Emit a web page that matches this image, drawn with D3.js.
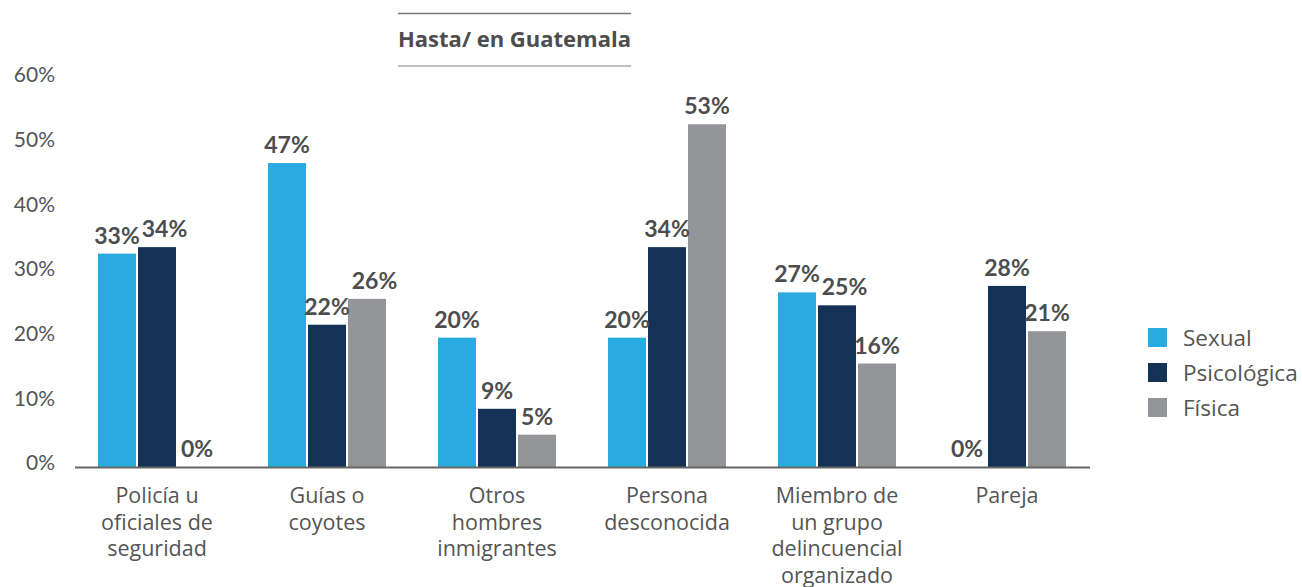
<!DOCTYPE html>
<html><head><meta charset="utf-8">
<script src="https://cdn.jsdelivr.net/npm/d3@7"></script>
<style>
html,body{margin:0;padding:0;background:#fff;}
svg{display:block;font-family:Lato, "Noto Sans", sans-serif;}
</style></head>
<body>
<svg id="chart" width="1302" height="587"></svg>
<script>
const categories = [
  ["Policía u","oficiales de","seguridad"],
  ["Guías o","coyotes"],
  ["Otros","hombres","inmigrantes"],
  ["Persona","desconocida"],
  ["Miembro de","un grupo","delincuencial","organizado"],
  ["Pareja"]
];
const seriesNames = ["Sexual","Psicológica","Física"];
const sexual      = [33, 47, 20, 20, 27, 0];
const psicologica = [34, 22,  9, 34, 25, 28];
const fisica      = [ 0, 26,  5, 53, 16, 21];
const yTicks = [0, 10, 20, 30, 40, 50, 60];
const title = "Hasta/ en Guatemala";
const colors = ["#29abe2", "#133256", "#939598"];

const series = [sexual, psicologica, fisica];
const svg = d3.select("#chart");
const textColor = "#4d4d4d";
const wideFont = "'Open Sans', 'Noto Sans', sans-serif";

const x0 = d3.scaleBand().domain(d3.range(categories.length)).range([72, 1092]).paddingInner(0).paddingOuter(0);
const groupW = 118;
const x1 = d3.scaleBand().domain(d3.range(series.length)).range([0, groupW]).paddingInner(0.05);
const y = d3.scaleLinear().domain([0, 60]).range([467, 79]);

// y axis labels
const yAxis = d3.axisLeft(y).tickValues(yTicks).tickFormat(d => d + "%").tickSize(0).tickPadding(0);
const gy = svg.append("g").attr("transform", "translate(55,-4)").call(yAxis);
gy.select(".domain").remove();
gy.selectAll("text").attr("font-size", 21).attr("fill", "#555").attr("font-family", "Lato, sans-serif");

// bars
const groups = svg.append("g").selectAll("g").data(categories).join("g")
  .attr("transform", (d, i) => `translate(${x0(i) + (x0.bandwidth() - groupW) / 2},0)`);

groups.each(function(cat, ci) {
  const g = d3.select(this);
  const vals = series.map(s => s[ci]);
  g.selectAll("rect").data(vals).join("rect")
    .attr("x", (d, si) => x1(si))
    .attr("width", x1.bandwidth())
    .attr("y", d => y(d))
    .attr("height", d => y(0) - y(d))
    .attr("fill", (d, si) => colors[si]);
  const labels = g.selectAll("text.val").data(vals).join("text")
    .attr("class", "val")
    .attr("x", (d, si) => x1(si) + x1.bandwidth() / 2)
    .attr("y", d => y(d) - 10)
    .attr("text-anchor", "middle")
    .attr("font-size", 23)
    .attr("font-weight", 700)
    .attr("fill", textColor)
    .text(d => d + "%");
  const nodes = labels.nodes();
  for (let k = 1; k < nodes.length; k++) {
    const a = nodes[k - 1].getBBox(), b = nodes[k].getBBox();
    const vOverlap = !(b.y + b.height < a.y || a.y + a.height < b.y);
    if (vOverlap && b.x < a.x + a.width + 2) {
      const shift = a.x + a.width + 2 - b.x;
      d3.select(nodes[k]).attr("x", +d3.select(nodes[k]).attr("x") + shift);
    }
  }
});

// baseline
svg.append("line").attr("x1", 75).attr("x2", 1090).attr("y1", y(0) + 0.5).attr("y2", y(0) + 0.5)
  .attr("stroke", "#666").attr("stroke-width", 2);

// category labels
const catG = svg.append("g");
categories.forEach((lines, i) => {
  const t = catG.append("text")
    .attr("x", x0(i) + x0.bandwidth() / 2)
    .attr("y", 503)
    .attr("text-anchor", "middle")
    .attr("font-size", 21.5)
    .attr("font-family", wideFont)
    .attr("fill", "#555");
  lines.forEach((ln, k) => {
    t.append("tspan").attr("x", x0(i) + x0.bandwidth() / 2).attr("dy", k === 0 ? 0 : 26.5).text(ln);
  });
});

// title
svg.append("line").attr("x1", 398).attr("x2", 631).attr("y1", 13.5).attr("y2", 13.5).attr("stroke", "#777").attr("stroke-width", 1.5);
svg.append("line").attr("x1", 398).attr("x2", 631).attr("y1", 66).attr("y2", 66).attr("stroke", "#aaa").attr("stroke-width", 1.5);
svg.append("text").attr("x", 514.5).attr("y", 47).attr("text-anchor", "middle")
  .attr("font-size", 22).attr("font-weight", 700).attr("font-family", wideFont)
  .attr("fill", textColor).text(title);

// legend
const lg = svg.append("g").attr("transform", "translate(1148,328)");
seriesNames.forEach((n, i) => {
  lg.append("rect").attr("x", 0).attr("y", i * 35).attr("width", 19).attr("height", 19).attr("fill", colors[i]);
  lg.append("text").attr("x", 35).attr("y", i * 35 + 18).attr("font-size", 22.5)
    .attr("font-family", wideFont).attr("fill", "#555").text(n);
});
</script>
</body></html>
